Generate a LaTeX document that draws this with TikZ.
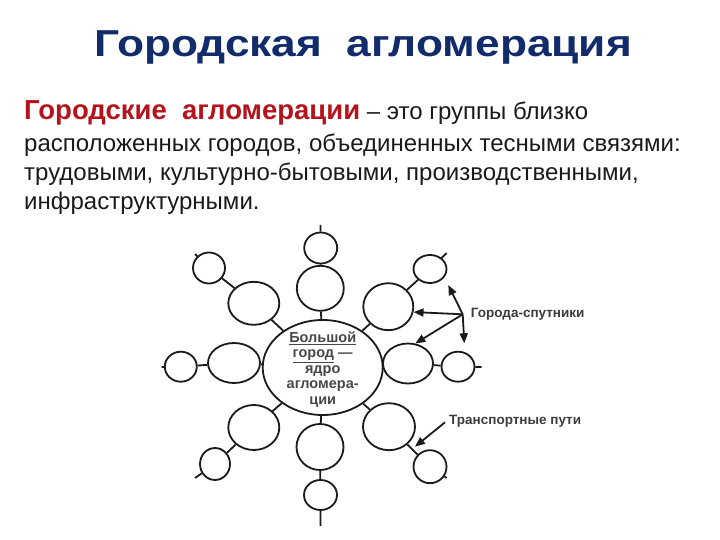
\documentclass[tikz,border=0pt]{standalone}
\usepackage{fontspec}
\setmainfont{Liberation Sans}
\usetikzlibrary{shapes.geometric,arrows.meta}
\definecolor{navy}{HTML}{112B6B}
\definecolor{dred}{HTML}{B5121B}
\definecolor{ink}{HTML}{1A1A1A}
\tikzset{
  city/.style={ellipse,draw=ink,line width=1.8pt,fill=white,inner sep=0pt,minimum width=#1},
  road/.style={draw=ink,line width=1.8pt},
  arr/.style={draw=ink,line width=1.8pt,-{Triangle[length=10pt,width=8pt]}},
  body/.style={anchor=base west,inner sep=0pt,font=\fontsize{24}{28}\selectfont,text=ink},
  lab/.style={anchor=west,inner sep=0pt,font=\fontsize{13.5}{16}\selectfont\bfseries,text=ink!85}
}
\begin{document}
\begin{tikzpicture}[x=1pt,y=-1pt]
\useasboundingbox (0,0) rectangle (720,540);
% title
\node[anchor=base,inner sep=0pt,font=\fontsize{37.5}{40}\selectfont\bfseries,text=navy] (title) at (363,57) {\scalebox{1.18}[1]{Городская\ \ агломерация}};
% body text
\node[body] (l1) at (24,120) {{\color{dred}\fontsize{27.5}{30}\selectfont\bfseries Городские\ \ агломерации} – это группы близко};
\node[body] (l2) at (24,151.5) {расположенных городов, объединенных тесными связями:};
\node[body] (l3) at (24,180.5) {трудовыми, культурно-бытовыми, производственными,};
\node[body] (l4) at (24,209.5) {инфраструктурными.};
% core
\node[city=120pt,minimum height=95pt] (core) at (322.7,367.5) {};
\node[align=center,inner sep=0pt,font=\fontsize{14.5}{15.5}\selectfont\bfseries,text=ink!80] (coretext) at (322.7,369.5)
  {\underline{Большой}\\\underline{город} —\\ядро\\агломера-\\ции};
% medium cities
\node[city=47pt,minimum height=45pt] (mt) at (320.3,288.3) {};
\node[city=47pt,minimum height=46pt] (mb) at (320,447) {};
\node[city=52pt,minimum height=40pt] (ml) at (234,363) {};
\node[city=50pt,minimum height=40pt] (mr) at (408,363.5) {};
\node[city=51pt,minimum height=43pt] (mul) at (253.8,303.3) {};
\node[city=50pt,minimum height=47pt] (mur) at (388.3,306.7) {};
\node[city=51pt,minimum height=45pt] (mll) at (253.8,427.5) {};
\node[city=52pt,minimum height=47pt] (mlr) at (389,426.7) {};
% small cities
\node[city=33pt,minimum height=31pt] (st) at (320.7,248) {};
\node[city=33pt,minimum height=30pt] (sb) at (320.5,495) {};
\node[city=32pt,minimum height=30pt] (sl) at (180.8,366.7) {};
\node[city=33pt,minimum height=30pt] (sr) at (458,366.7) {};
\node[city=32pt,minimum height=31pt] (sul) at (209,268) {};
\node[city=33pt,minimum height=28pt] (sur) at (430,269) {};
\node[city=30pt,minimum height=32pt] (sll) at (215,464) {};
\node[city=33pt,minimum height=33pt] (slr) at (430,466.7) {};
% road ends
\coordinate (et) at (320.5,225);
\coordinate (eb) at (320.5,526);
\coordinate (el) at (161.7,367);
\coordinate (er) at (481.7,367);
\coordinate (eul) at (195,254);
\coordinate (eur) at (446.7,253);
\coordinate (ell) at (195,478);
\coordinate (elr) at (446.7,478);
% roads
\draw[road] (core) -- (mt) -- (st) -- (et);
\draw[road] (core) -- (mb) -- (sb) -- (eb);
\draw[road] (core) -- (ml) -- (sl) -- (el);
\draw[road] (core) -- (mr) -- (sr) -- (er);
\draw[road] (core) -- (mul) -- (sul) -- (eul);
\draw[road] (core) -- (mur) -- (sur) -- (eur);
\draw[road] (core) -- (mll) -- (sll) -- (ell);
\draw[road] (core) -- (mlr) -- (slr) -- (elr);
% labels
\node[lab] (sat) at (470.7,314.3) {Города-спутники};
\node[lab] (trans) at (449,421.7) {Транспортные\ пути};
\coordinate (gs) at (462.7,314.3);
\coordinate (gup) at (448.3,285);
\coordinate (gdown) at (464.3,343.3);
\coordinate (ts) at (445,422.3);
\coordinate (tend) at (415,446.7);
\draw[arr] (gs) -- (gup);
\draw[arr] (gs) -- (mur.-12);
\draw[arr] (gs) -- (mr.70);
\draw[arr] (gs) -- (gdown);
\draw[arr] (ts) -- (tend);
\end{tikzpicture}
\end{document}
